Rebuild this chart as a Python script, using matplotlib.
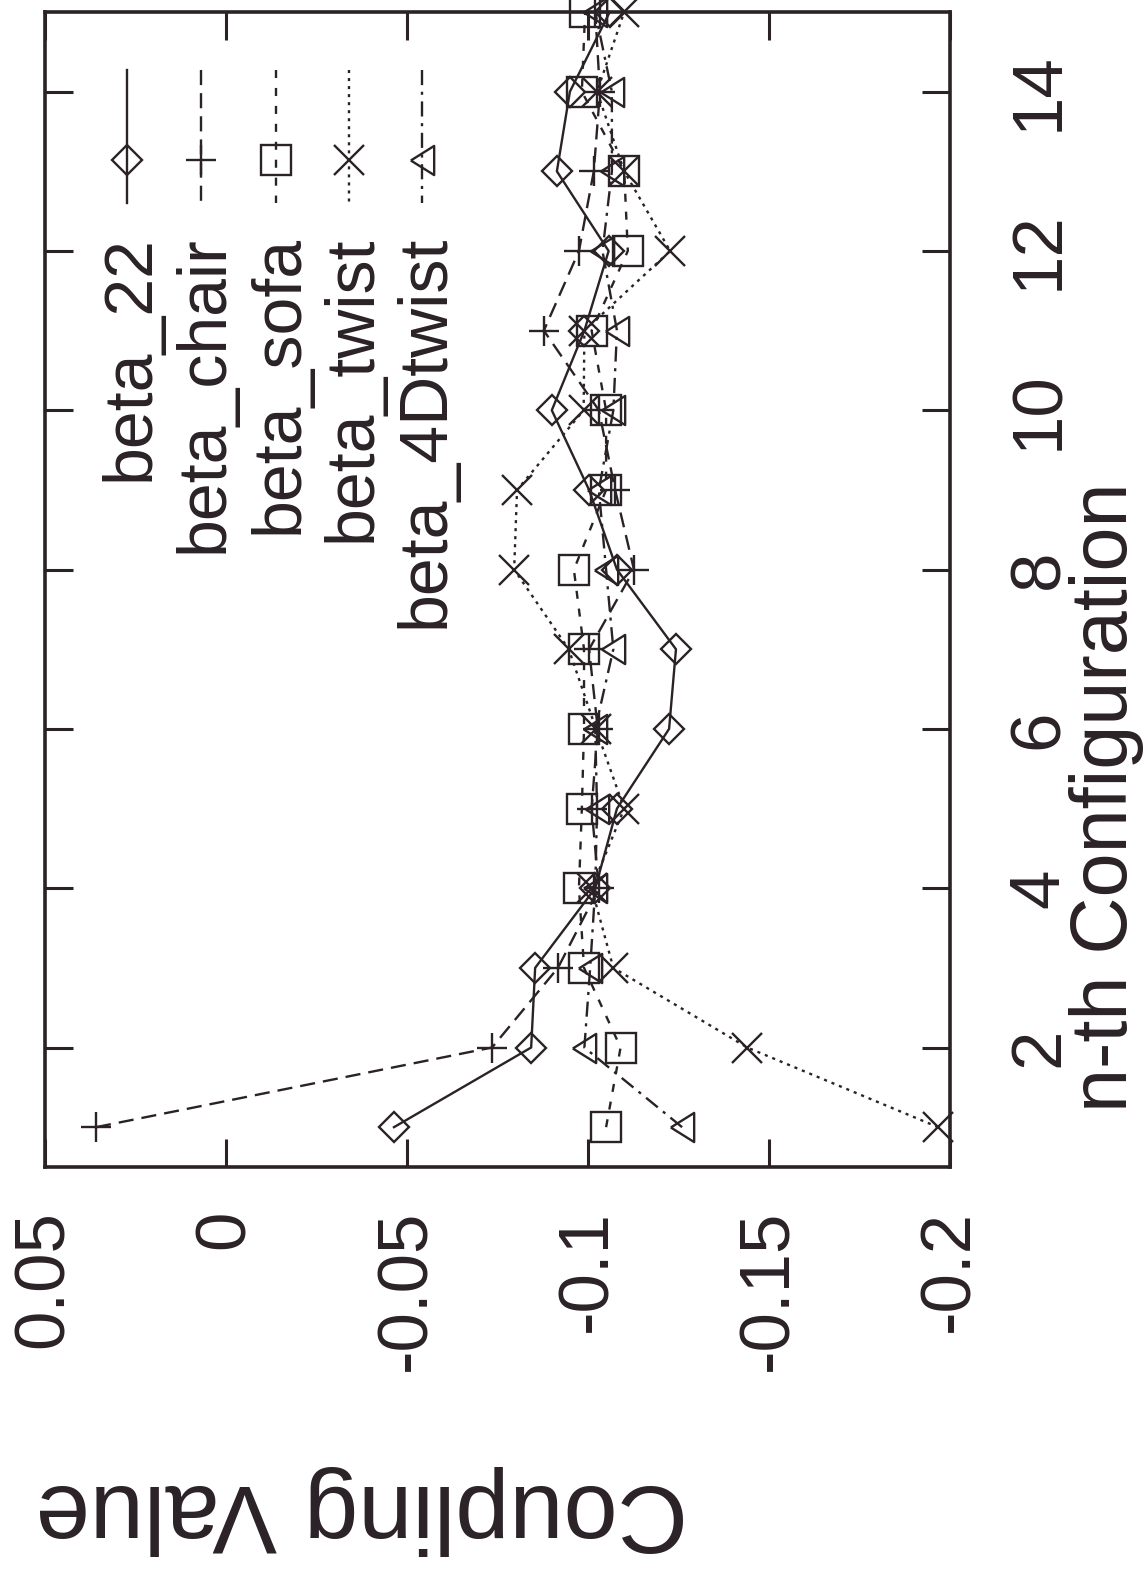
import matplotlib
matplotlib.use("Agg")
import matplotlib.pyplot as plt
from matplotlib.ticker import FixedLocator, FixedFormatter

plt.rcParams['font.family'] = ['Liberation Sans', 'DejaVu Sans']

# ---------------- data ----------------
configs = list(range(1, 16))
beta_22 = [-0.0464, -0.0843, -0.0854, -0.102, -0.108, -0.1224, -0.1243, -0.108,
           -0.1003, -0.090, -0.099, -0.1057, -0.0914, -0.095, -0.106]
beta_chair = [0.0359, -0.0735, -0.0917, -0.103, -0.101, -0.1027, -0.1003, -0.1127,
              -0.1075, -0.103, -0.0878, -0.0975, -0.1016, -0.1033, -0.102]
beta_sofa = [-0.105, -0.109, -0.0989, -0.0975, -0.0983, -0.0989, -0.0989, -0.0961,
             -0.105, -0.105, -0.101, -0.111, -0.110, -0.0983, -0.0992]
beta_twist = [-0.1967, -0.144, -0.107, -0.101, -0.110, -0.1022, -0.0947, -0.0796,
              -0.0804, -0.0988, -0.099, -0.1227, -0.110, -0.1025, -0.110]
beta_4Dtwist = [-0.126, -0.099, -0.1006, -0.102, -0.1025, -0.102, -0.107, -0.105,
                -0.103, -0.107, -0.108, -0.104, -0.1066, -0.1066, -0.102]

series_names = ["beta_22", "beta_chair", "beta_sofa", "beta_twist", "beta_4Dtwist"]
coupling_ticks = [0.05, 0.0, -0.05, -0.1, -0.15, -0.2]
coupling_labels = ["0.05", "0", "-0.05", "-0.1", "-0.15", "-0.2"]
config_ticks = [2, 4, 6, 8, 10, 12, 14]
config_labels = ["2", "4", "6", "8", "10", "12", "14"]
xlabel_text = "n-th Configuration"
ylabel_text = "Coupling Value"

# ---------------- styles ----------------
W, H = 1143, 1578
tri_left = [(-0.8, 0.0), (0.8, 1.0), (0.8, -1.0), (-0.8, 0.0)]
styles = [
    dict(marker='D', ms=14.8, ls='-'),
    dict(marker='+', ms=21, ls=(0, (6.4, 3.4))),
    dict(marker='s', ms=21, ls=(0, (3.4, 4.2))),
    dict(marker='x', ms=21, ls=(0, (1.3, 2.1))),
    dict(marker=tri_left, ms=21, ls=(0, (6.4, 2.8, 1.3, 2.8))),
]
col = '#2a2226'
lw = 1.7

fig = plt.figure(figsize=(W / 100, H / 100), dpi=100)
fig.patch.set_facecolor('white')
L, R, T, B = 45, 950, 12, 1167
ax = fig.add_axes([L / W, 1 - B / H, (R - L) / W, (B - T) / H])

all_series = [beta_22, beta_chair, beta_sofa, beta_twist, beta_4Dtwist]
for vals, st in zip(all_series, styles):
    ax.plot(vals, configs, color=col, lw=lw, ls=st['ls'], marker=st['marker'],
            ms=st['ms'], mfc='none', mec=col, mew=lw, clip_on=False)

ax.set_xlim(0.05, -0.2)
ax.set_ylim(0.5, 15)

ax.xaxis.set_major_locator(FixedLocator(coupling_ticks))
ax.xaxis.set_major_formatter(FixedFormatter(coupling_labels))
ax.yaxis.set_major_locator(FixedLocator(config_ticks))
ax.yaxis.set_major_formatter(FixedFormatter(config_labels))
ax.yaxis.tick_right()
ax.tick_params(axis='both', which='major', direction='in', length=20, width=2.2,
               color=col, labelcolor=col, labelsize=51, top=True, bottom=True,
               left=True, right=True)
ax.tick_params(axis='x', pad=31)
ax.tick_params(axis='y', pad=41)
for lab in ax.get_xticklabels():
    lab.set_rotation(90)
    lab.set_ha('center')
    lab.set_va('top')
for lab in ax.get_yticklabels():
    lab.set_rotation(90)
    lab.set_ha('left')
    lab.set_va('center')
for sp in ax.spines.values():
    sp.set_linewidth(2.6)
    sp.set_color(col)

# axis labels (rotated page)
fig.text(1106 / W, 1 - 797 / H, xlabel_text, rotation=90, ha='center', va='center',
         fontsize=57, color=col)
fig.text(362 / W, 1 - 1510 / H, ylabel_text, rotation=180, ha='center', va='center',
         fontsize=70, color=col)

# legend (rotated)
leg_x = [127, 201, 276, 349, 422]
for name, st, xp in zip(series_names, styles, leg_x):
    xa = (xp - L) / (R - L)
    y0 = 1 - (70 - T) / (B - T)
    y1 = 1 - (203 - T) / (B - T)
    ym = 1 - (160 - T) / (B - T)
    ax.plot([xa, xa], [y0, y1], transform=ax.transAxes, color=col, lw=lw,
            ls=st['ls'], clip_on=False)
    ax.plot([xa], [ym], transform=ax.transAxes, color=col, marker=st['marker'],
            ms=st['ms'], mfc='none', mec=col, mew=lw, clip_on=False)
    fig.text((xp + 4) / W, 1 - 235 / H, name, rotation=90, ha='center', va='top',
             fontsize=49, color=col)

fig.savefig("out.png", dpi=100, facecolor='white')
